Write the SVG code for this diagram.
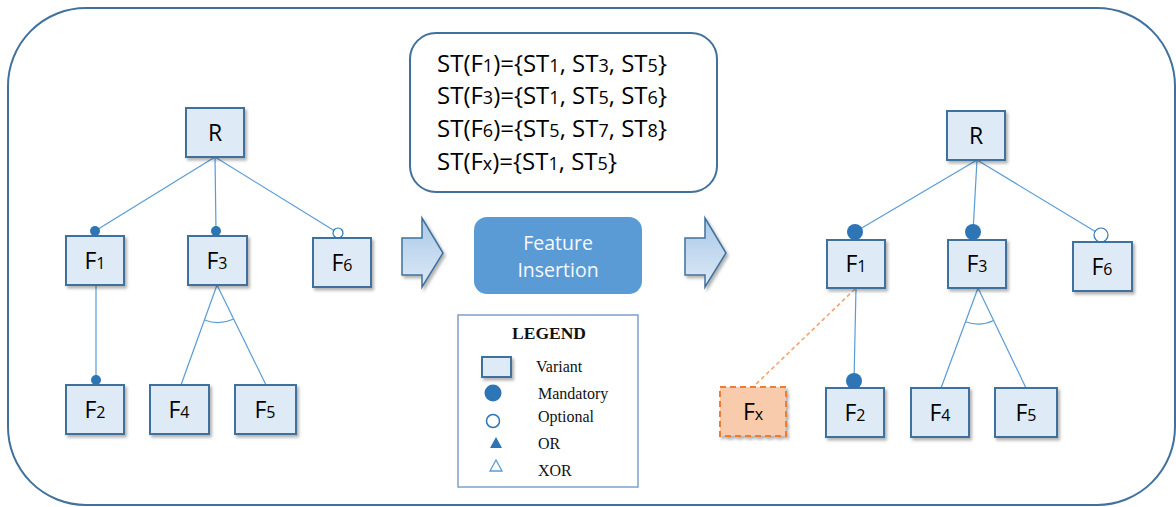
<svg xmlns="http://www.w3.org/2000/svg" width="1176" height="507" viewBox="0 0 1176 507">
<defs>
  <filter id="sh" x="-20%" y="-20%" width="150%" height="150%">
    <feDropShadow dx="2" dy="2.5" stdDeviation="1.5" flood-color="#000" flood-opacity="0.3"/>
  </filter>
  <linearGradient id="arrowGrad" x1="0" y1="0" x2="0" y2="1">
    <stop offset="0" stop-color="#A9C8E8"/>
    <stop offset="1" stop-color="#DDEAF6"/>
  </linearGradient>
  <style>
    .node rect { fill:#DEEBF7; stroke:#41719C; stroke-width:2; }
    .lbl { font-family:"Open Sans","Liberation Sans",sans-serif; font-size:23px; fill:#000; text-anchor:middle; }
    .sub { font-size:16px; }
    .ln { stroke:#5B9BD5; stroke-width:1.2; fill:none; }
    .dot { fill:#2E75B6; }
    .opt { fill:#fff; stroke:#2E75B6; stroke-width:1.2; }
    .st { font-family:"Open Sans","Liberation Sans",sans-serif; font-size:24px; fill:#000; }
    .sts { font-size:18px; }
    .leg { font-family:"Liberation Serif","Times New Roman",serif; font-size:16px; fill:#111; }
    .arrow { fill:url(#arrowGrad); stroke:#41719C; stroke-width:1.5; }
  </style>
</defs>

<rect id="frame" x="8" y="8" width="1167" height="497" rx="78" ry="78" fill="#fff" stroke="#41719C" stroke-width="2"/>

<!-- connectors -->
<g id="connectors">
  <!-- left tree -->
  <line class="ln" x1="215" y1="157" x2="95" y2="231"/>
  <line class="ln" x1="215" y1="157" x2="216" y2="231"/>
  <line class="ln" x1="215" y1="157" x2="338" y2="233"/>
  <line class="ln" x1="96" y1="285" x2="96" y2="380"/>
  <line class="ln" x1="217" y1="285" x2="181" y2="385"/>
  <line class="ln" x1="217" y1="285" x2="266" y2="385"/>
  <path class="ln" d="M204.4,320 A38,38 0 0,0 233.8,319"/>
  <circle class="dot" cx="95" cy="231" r="5"/>
  <circle class="dot" cx="216" cy="231" r="5"/>
  <circle class="opt" cx="338" cy="233" r="5"/>
  <circle class="dot" cx="96" cy="380" r="5"/>
  <!-- right tree -->
  <line class="ln" x1="977" y1="160" x2="855" y2="232"/>
  <line class="ln" x1="977" y1="160" x2="973" y2="232"/>
  <line class="ln" x1="977" y1="160" x2="1101" y2="235"/>
  <line class="ln" x1="856" y1="288" x2="854" y2="381"/>
  <line class="ln" x1="978" y1="288" x2="941" y2="388"/>
  <line class="ln" x1="978" y1="288" x2="1026" y2="388"/>
  <path class="ln" d="M965.5,321.8 A36,36 0 0,0 993.6,320.5"/>
  <line x1="855" y1="289" x2="753" y2="387" stroke="#F4A46C" stroke-width="1.6" stroke-dasharray="4 3"/>
  <circle class="dot" cx="855" cy="232" r="8"/>
  <circle class="dot" cx="973" cy="232" r="8"/>
  <circle class="opt" cx="1101" cy="235" r="7"/>
  <circle class="dot" cx="854" cy="381" r="8"/>
</g>

<!-- left tree nodes -->
<g id="L_R" class="node"><rect x="186" y="108" width="58" height="49" filter="url(#sh)"/><text class="lbl" x="215" y="141">R</text></g>
<g id="L_F1" class="node"><rect x="66" y="236" width="58" height="49" filter="url(#sh)"/><text class="lbl" x="95" y="269">F<tspan class="sub">1</tspan></text></g>
<g id="L_F3" class="node"><rect x="188" y="236" width="59" height="49" filter="url(#sh)"/><text class="lbl" x="217" y="269">F<tspan class="sub">3</tspan></text></g>
<g id="L_F6" class="node"><rect x="313" y="238" width="58" height="49" filter="url(#sh)"/><text class="lbl" x="342" y="271">F<tspan class="sub">6</tspan></text></g>
<g id="L_F2" class="node"><rect x="66" y="385" width="58" height="49" filter="url(#sh)"/><text class="lbl" x="95" y="418">F<tspan class="sub">2</tspan></text></g>
<g id="L_F4" class="node"><rect x="150" y="385" width="59" height="49" filter="url(#sh)"/><text class="lbl" x="179" y="418">F<tspan class="sub">4</tspan></text></g>
<g id="L_F5" class="node"><rect x="235" y="385" width="61" height="49" filter="url(#sh)"/><text class="lbl" x="265" y="418">F<tspan class="sub">5</tspan></text></g>

<!-- ST box -->
<g id="stbox">
  <rect x="410" y="33" width="307" height="159" rx="26" ry="26" fill="#fff" stroke="#41719C" stroke-width="2"/>
  <text class="st" x="437" y="72">ST(F<tspan class="sts">1</tspan>)={ST<tspan class="sts">1</tspan>, ST<tspan class="sts">3</tspan>, ST<tspan class="sts">5</tspan>}</text>
  <text class="st" x="437" y="104">ST(F<tspan class="sts">3</tspan>)={ST<tspan class="sts">1</tspan>, ST<tspan class="sts">5</tspan>, ST<tspan class="sts">6</tspan>}</text>
  <text class="st" x="437" y="137">ST(F<tspan class="sts">6</tspan>)={ST<tspan class="sts">5</tspan>, ST<tspan class="sts">7</tspan>, ST<tspan class="sts">8</tspan>}</text>
  <text class="st" x="437" y="170">ST(F<tspan class="sts">x</tspan>)={ST<tspan class="sts">1</tspan>, ST<tspan class="sts">5</tspan>}</text>
</g>

<!-- arrows -->
<g id="arrowL"><path class="arrow" d="M402,238 L422,238 L422,218 L443,253 L422,287 L422,275 L402,275 Z" filter="url(#sh)"/></g>
<g id="arrowR"><path class="arrow" d="M685,238 L705,238 L705,218 L726,253 L705,287 L705,275 L685,275 Z" filter="url(#sh)"/></g>

<!-- Feature insertion -->
<g id="insertion">
  <rect x="474" y="217" width="168" height="77" rx="13" ry="13" fill="#5B9BD5"/>
  <text x="558" y="250" font-family="Open Sans, Liberation Sans, sans-serif" font-size="19.5" fill="#F5F9FD" text-anchor="middle">Feature</text>
  <text x="558" y="277" font-family="Open Sans, Liberation Sans, sans-serif" font-size="19.5" fill="#F5F9FD" text-anchor="middle">Insertion</text>
</g>

<!-- legend -->
<g id="legend">
  <rect x="458" y="315" width="180" height="172" fill="#fff" stroke="#7FA0C6" stroke-width="1.5"/>
  <text x="549" y="339" font-family="Liberation Serif, Times New Roman, serif" font-size="17.5" font-weight="bold" fill="#111" text-anchor="middle">LEGEND</text>
  <rect x="482" y="357" width="29" height="20" fill="#DEEBF7" stroke="#41719C" stroke-width="2" filter="url(#sh)"/>
  <text class="leg" x="536" y="372">Variant</text>
  <circle cx="493" cy="393" r="8.5" fill="#2E75B6"/>
  <text class="leg" x="538" y="399">Mandatory</text>
  <circle cx="493" cy="421" r="6.5" fill="#fff" stroke="#2E75B6" stroke-width="1.5"/>
  <text class="leg" x="538" y="422">Optional</text>
  <polygon points="496,437 502,448 490,448" fill="#2E75B6"/>
  <text class="leg" x="538" y="449">OR</text>
  <polygon points="496,460 502,471 490,471" fill="#fff" stroke="#5B9BD5" stroke-width="1.3"/>
  <text class="leg" x="538" y="476">XOR</text>
</g>

<!-- right tree nodes -->
<g id="R_R" class="node"><rect x="947" y="111" width="58" height="49" filter="url(#sh)"/><text class="lbl" x="976" y="144">R</text></g>
<g id="R_F1" class="node"><rect x="827" y="240" width="58" height="48" filter="url(#sh)"/><text class="lbl" x="856" y="272">F<tspan class="sub">1</tspan></text></g>
<g id="R_F3" class="node"><rect x="948" y="240" width="58" height="48" filter="url(#sh)"/><text class="lbl" x="977" y="272">F<tspan class="sub">3</tspan></text></g>
<g id="R_F6" class="node"><rect x="1073" y="242" width="59" height="49" filter="url(#sh)"/><text class="lbl" x="1102" y="275">F<tspan class="sub">6</tspan></text></g>
<g id="R_Fx"><rect x="720" y="387" width="66" height="49" fill="#F8CBAD" stroke="#ED7D31" stroke-width="2" stroke-dasharray="6 4" filter="url(#sh)"/><text class="lbl" x="753" y="420">F<tspan class="sub">x</tspan></text></g>
<g id="R_F2" class="node"><rect x="826" y="388" width="58" height="49" filter="url(#sh)"/><text class="lbl" x="855" y="421">F<tspan class="sub">2</tspan></text></g>
<g id="R_F4" class="node"><rect x="911" y="388" width="58" height="49" filter="url(#sh)"/><text class="lbl" x="940" y="421">F<tspan class="sub">4</tspan></text></g>
<g id="R_F5" class="node"><rect x="995" y="388" width="62" height="49" filter="url(#sh)"/><text class="lbl" x="1026" y="421">F<tspan class="sub">5</tspan></text></g>
</svg>
